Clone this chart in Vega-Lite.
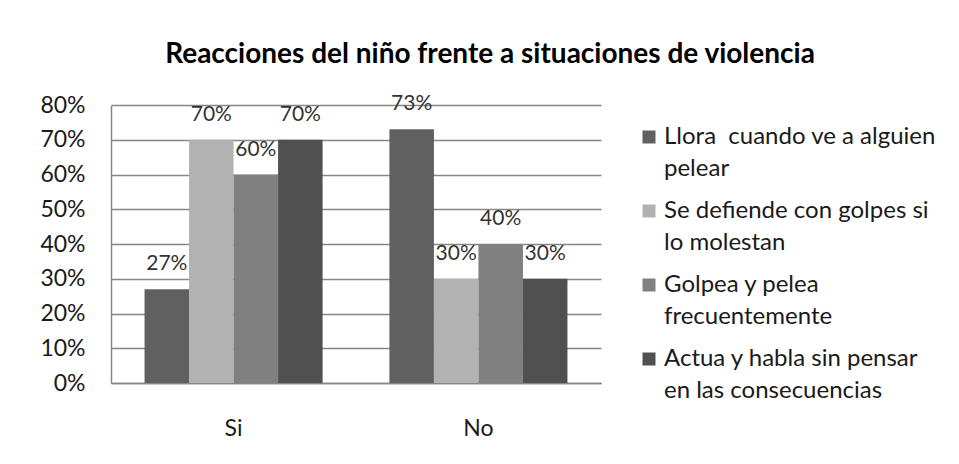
{
  "$schema": "https://vega.github.io/schema/vega-lite/v6.json",
  "autosize": {"type": "none"},
  "width": 490,
  "height": 278,
  "padding": {"left": 111, "top": 105, "right": 358, "bottom": 81},
  "background": "white",
  "config": {
    "font": "Lato",
    "view": {"stroke": null},
    "style": {"guide-label": {"lineHeight": 32}}
  },
  "title": {
    "text": "Reacciones del niño frente a situaciones de violencia",
    "font": "Lato",
    "fontSize": 28,
    "fontWeight": "bold",
    "color": "#000000",
    "anchor": "middle",
    "dx": 134,
    "baseline": "alphabetic",
    "offset": 2
  },
  "data": {
    "values": [
      {"respuesta": "Si", "serie": "Llora  cuando ve a alguien pelear", "valor": 0.27},
      {"respuesta": "Si", "serie": "Se defiende con golpes si lo molestan", "valor": 0.70},
      {"respuesta": "Si", "serie": "Golpea y pelea frecuentemente", "valor": 0.60},
      {"respuesta": "Si", "serie": "Actua y habla sin pensar en las consecuencias", "valor": 0.70},
      {"respuesta": "No", "serie": "Llora  cuando ve a alguien pelear", "valor": 0.73},
      {"respuesta": "No", "serie": "Se defiende con golpes si lo molestan", "valor": 0.30},
      {"respuesta": "No", "serie": "Golpea y pelea frecuentemente", "valor": 0.40},
      {"respuesta": "No", "serie": "Actua y habla sin pensar en las consecuencias", "valor": 0.30}
    ]
  },
  "encoding": {
    "x": {
      "field": "respuesta",
      "type": "nominal",
      "sort": ["Si", "No"],
      "scale": {"paddingInner": 0.273, "paddingOuter": 0.137},
      "axis": {
        "title": null,
        "labelAngle": 0,
        "labelFont": "Lato",
        "labelFontSize": 23,
        "labelColor": "#1a1a1a",
        "labelPadding": 34,
        "ticks": false,
        "domainColor": "#868686",
        "domainWidth": 1.5
      }
    },
    "xOffset": {
      "field": "serie",
      "type": "nominal",
      "sort": ["Llora  cuando ve a alguien pelear", "Se defiende con golpes si lo molestan", "Golpea y pelea frecuentemente", "Actua y habla sin pensar en las consecuencias"],
      "scale": {"paddingInner": 0, "paddingOuter": 0}
    },
    "y": {
      "field": "valor",
      "type": "quantitative",
      "scale": {"domain": [0, 0.8], "nice": false},
      "axis": {
        "title": null,
        "format": ".0%",
        "values": [0, 0.1, 0.2, 0.3, 0.4, 0.5, 0.6, 0.7, 0.8],
        "labelFont": "Lato",
        "labelFontSize": 23,
        "labelColor": "#1a1a1a",
        "labelPadding": 26,
        "ticks": false,
        "grid": true,
        "gridColor": "#868686",
        "gridWidth": 1.5,
        "domainColor": "#868686",
        "domainWidth": 1.5
      }
    }
  },
  "layer": [
    {
      "mark": {"type": "bar"},
      "encoding": {
        "color": {
          "field": "serie",
          "type": "nominal",
          "scale": {
            "domain": ["Llora  cuando ve a alguien pelear", "Se defiende con golpes si lo molestan", "Golpea y pelea frecuentemente", "Actua y habla sin pensar en las consecuencias"],
            "range": ["#606060", "#b2b2b2", "#808080", "#505050"]
          },
          "legend": {
            "title": null,
            "orient": "none",
            "legendX": 526,
            "legendY": 20,
            "padding": 0,
            "symbolType": "square",
            "symbolSize": 169,
            "symbolStrokeWidth": 0,
            "labelFont": "Lato",
            "labelFontSize": 24,
            "labelColor": "#1a1a1a",
            "labelBaseline": "middle",
            "labelOffset": 3,
            "labelLimit": 400,
            "rowPadding": 18,
            "labelExpr": "datum.label == 'Llora  cuando ve a alguien pelear' ? ['Llora\u00a0 cuando ve a alguien', 'pelear'] : datum.label == 'Se defiende con golpes si lo molestan' ? ['Se defiende con golpes si', 'lo molestan'] : datum.label == 'Golpea y pelea frecuentemente' ? ['Golpea y pelea', 'frecuentemente'] : ['Actua y habla sin pensar', 'en las consecuencias']"
          }
        }
      }
    },
    {
      "mark": {"type": "text", "baseline": "alphabetic", "dy": -19, "font": "Lato", "fontSize": 21, "color": "#333333"},
      "encoding": {
        "text": {"field": "valor", "type": "quantitative", "format": ".0%"}
      }
    }
  ]
}
